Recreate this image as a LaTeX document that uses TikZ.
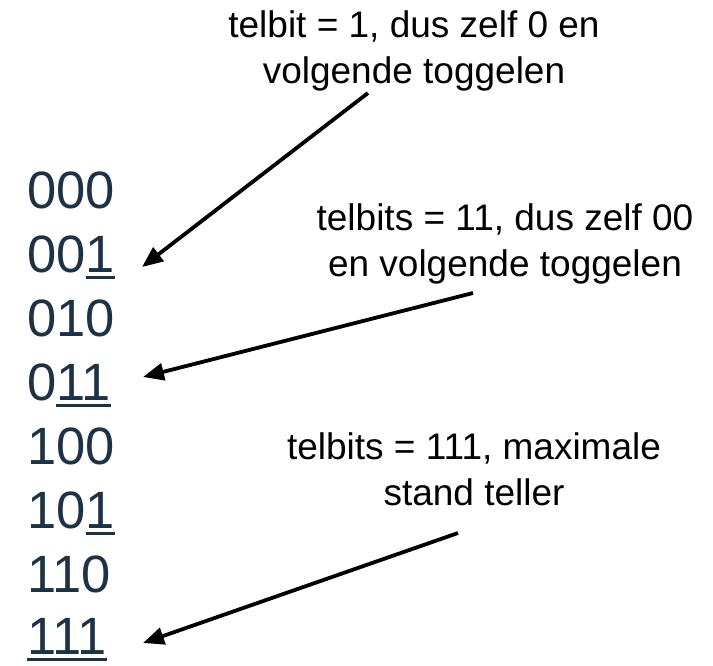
\documentclass[tikz,border=0pt]{standalone}
\usepackage{fontspec}
\setmainfont{Liberation Sans}
\usetikzlibrary{arrows.meta}
\definecolor{digitcol}{RGB}{30,50,70}
\newcommand\ubar[1]{\setbox0\hbox{#1}\rlap{\rule[-7pt]{\wd0}{3pt}}\box0}
\begin{document}
\begin{tikzpicture}[x=1pt,y=-1pt,
  row/.style={anchor=base west,inner sep=0pt,text=digitcol,font=\fontsize{52.5}{60}\selectfont},
  lbl/.style={anchor=base,inner sep=0pt,text=black,font=\fontsize{37}{46}\selectfont},
  pointer/.style={draw=black,line width=3.8pt,-{Triangle[length=21pt,width=17pt]}}]
\useasboundingbox (0,0) rectangle (713,665);
\node[row] (r0) at (27,208) {000};
\node[row] (r1) at (27,272) {00\ubar{1}};
\node[row] (r2) at (27,336) {010};
\node[row] (r3) at (27,400) {0\ubar{11}};
\node[row] (r4) at (27,464) {100};
\node[row] (r5) at (27,528) {10\ubar{1}};
\node[row] (r6) at (27,592) {110};
\node[row] (r7) at (27,654) {\ubar{111}};
\node[lbl] (t1a) at (414,37) {telbit = 1, dus zelf 0 en};
\node[lbl] (t1b) at (414,83) {volgende toggelen};
\node[lbl] (t2a) at (505,230) {telbits = 11, dus zelf 00};
\node[lbl] (t2b) at (505,276) {en volgende toggelen};
\node[lbl] (t3a) at (474,459) {telbits = 111, maximale};
\node[lbl] (t3b) at (474,505) {stand teller};
\coordinate (s1) at (368,93);
\coordinate (e1) at (142,267);
\coordinate (s2) at (473,293);
\coordinate (e2) at (143,377);
\coordinate (s3) at (458,533);
\coordinate (e3) at (143,643);
\draw[pointer] (s1) -- (e1);
\draw[pointer] (s2) -- (e2);
\draw[pointer] (s3) -- (e3);
\end{tikzpicture}
\end{document}
